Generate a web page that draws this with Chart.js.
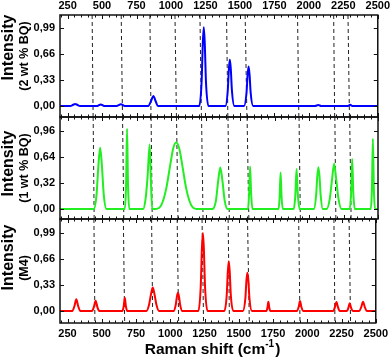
<!DOCTYPE html>
<html><head><meta charset="utf-8">
<script src="https://cdn.jsdelivr.net/npm/chart.js@4.4.0/dist/chart.umd.min.js"></script>
<style>
html,body{margin:0;padding:0;background:#fff;}
#wrap{position:relative;width:392px;height:359px;}
canvas{position:absolute;left:0;top:0;}
</style></head><body>
<div id="wrap">
<canvas id="c1" width="392" height="359"></canvas>
<canvas id="c2" width="392" height="359"></canvas>
<canvas id="c3" width="392" height="359"></canvas>
</div>
<script>
// ---- data ----
const xTickLabels = [250, 500, 750, 1000, 1250, 1500, 1750, 2000, 2250, 2500];
const yTicksBQ2 = [0, 0.33, 0.66, 0.99];
const yTicksBQ1 = [0, 0.32, 0.64, 0.96];
const yTicksM4 = [0, 0.33, 0.66, 0.99];

const shiftBQ2 = [195,270,290,305,320,340,465,491,515,605,637,665,835,855,872,889,905,1205,1222,1231,1238,1245,1254,1272,1395,1412,1420,1427,1434,1442,1460,1530,1548,1556,1563,1570,1578,1596,2045,2068,2090,2285,2300,2315,2500];
const intensityBQ2 = [0,0,0.015,0.025,0.015,0,0,0.02,0,0,0.022,0,0,0.06,0.127,0.06,0,0,0.3,0.8,1.0,0.8,0.3,0,0,0.2,0.47,0.59,0.47,0.2,0,0,0.17,0.4,0.5,0.4,0.17,0,0,0.012,0,0,0.015,0,0];

const shiftBQ1 = [195,440,460,474,486,498,512,532,665,674,681,688,697,798,815,830,845,853,863,890,930,965,995,1015,1037,1060,1080,1110,1145,1185,1300,1325,1342,1357,1372,1389,1410,1558,1566,1573,1580,1590,1780,1787,1794,1801,1810,1890,1900,1910,1918,1932,2035,2052,2060,2068,2076,2084,2100,2128,2150,2168,2182,2196,2214,2236,2295,2305,2313,2321,2332,2448,2456,2463,2470,2478,2500];
const intensityBQ1 = [0,0,0.18,0.55,0.75,0.55,0.18,0,0,0.3,0.985,0.3,0,0,0.12,0.4,0.79,0.4,0,0,0.05,0.25,0.55,0.74,0.816,0.74,0.55,0.25,0.05,0,0,0.1,0.35,0.508,0.35,0.1,0,0,0.2,0.52,0.2,0,0,0.15,0.447,0.15,0,0,0.15,0.489,0.2,0,0,0.18,0.4,0.513,0.4,0.18,0,0,0.12,0.38,0.554,0.38,0.12,0,0,0.2,0.612,0.2,0,0,0.25,0.862,0.25,0,0];

const shiftM4 = [195,285,300,314,328,343,428,442,455,468,482,650,660,668,676,686,826,845,860,872,884,899,918,1024,1040,1048,1056,1064,1072,1088,1205,1222,1231,1238,1245,1254,1272,1395,1412,1420,1427,1434,1442,1460,1530,1548,1556,1563,1570,1578,1596,1702,1709,1716,1723,1730,1925,1937,1947,1957,1970,2190,2202,2213,2224,2236,2290,2300,2310,2320,2332,2380,2394,2407,2420,2434,2500];
const intensityM4 = [0,0,0.06,0.148,0.06,0,0,0.05,0.131,0.05,0,0,0.06,0.169,0.06,0,0,0.08,0.22,0.3,0.22,0.08,0,0,0.08,0.18,0.232,0.18,0.08,0,0,0.3,0.8,0.993,0.8,0.3,0,0,0.2,0.5,0.635,0.5,0.2,0,0,0.16,0.39,0.486,0.39,0.16,0,0,0.04,0.118,0.04,0,0,0.05,0.127,0.05,0,0,0.05,0.114,0.05,0,0,0.04,0.098,0.04,0,0,0.05,0.118,0.05,0,0];

// reference (dashed) lines: Raman shift where each line meets the top and bottom of the figure
const dashTop    = [428, 639, 847, 1029, 1210, 1403, 1538, 1918, 2180, 2284];
const dashBottom = [450, 667, 872, 1061, 1243, 1432, 1577, 1947, 2202, 2316];

// axis titles
const yTitleBQ2 = ['Intensity', '(2 wt % BQ)'];
const yTitleBQ1 = ['Intensity', '(1 wt % BQ)'];
const yTitleM4  = ['Intensity', '(M4)'];
const xTitle = ['Raman shift (cm', '-1', ')'];

// ---- layout / style ----
const X_MIN = 195, X_MAX = 2500;
const FIG_TOP = 15, FIG_BOTTOM = 323;
const FONT = "'Liberation Sans', Arial, sans-serif";
Chart.defaults.font.family = FONT;
Chart.defaults.font.weight = 'bold';
Chart.defaults.color = '#000';

function fmt(v){ return v.toFixed(2).replace('.', ','); }

const panelDecor = {
  id: 'panelDecor',
  beforeDatasetsDraw(chart){
    const {ctx, chartArea:a, scales:{x}} = chart;
    ctx.save();
    ctx.strokeStyle = '#222'; ctx.lineWidth = 1; ctx.setLineDash([4,3]);
    const span = FIG_BOTTOM - FIG_TOP;
    dashTop.forEach((v,i)=>{
      const xt = x.getPixelForValue(v), xb = x.getPixelForValue(dashBottom[i]);
      const at = yy => xt + (xb - xt) * (yy - FIG_TOP) / span;
      ctx.beginPath(); ctx.moveTo(at(a.top), a.top); ctx.lineTo(at(a.bottom), a.bottom); ctx.stroke();
    });
    ctx.restore();
  },
  afterDraw(chart, args, opts){
    const {ctx, chartArea:a, scales:{x, y}} = chart;
    ctx.save();
    ctx.strokeStyle = '#111'; ctx.lineWidth = 1.5; ctx.setLineDash([]);
    ctx.strokeRect(a.left, a.top, a.right - a.left, a.bottom - a.top);
    ctx.lineWidth = 1;
    ctx.beginPath();
    for (let v = 200; v <= X_MAX; v += 50) {
      const px = Math.round(x.getPixelForValue(v)) + 0.5;
      const len = (v % 250 === 0) ? 4 : 2.5;
      ctx.moveTo(px, a.top); ctx.lineTo(px, a.top + len);
      ctx.moveTo(px, a.bottom); ctx.lineTo(px, a.bottom - len);
    }
    y.ticks.forEach(t=>{
      const py = Math.round(y.getPixelForValue(t.value)) + 0.5;
      ctx.moveTo(a.left, py); ctx.lineTo(a.left + 4, py);
      ctx.moveTo(a.right, py); ctx.lineTo(a.right - 4, py);
    });
    ctx.stroke();

    // y-axis title (two lines, rotated)
    ctx.fillStyle = '#000';
    ctx.textAlign = 'center'; ctx.textBaseline = 'middle';
    (opts.yTitle || []).forEach((txt, i) => {
      const p = opts.yTitlePos[i];
      ctx.save();
      ctx.translate(p.x, a.top + p.dy);
      ctx.rotate(-Math.PI/2);
      ctx.font = 'bold ' + p.size + 'px ' + FONT;
      ctx.fillText(txt, 0, 0);
      ctx.restore();
    });

    // x-axis title with superscript
    if (opts.xTitle) {
      const mainF = 'bold 15.5px ' + FONT, supF = 'bold 10px ' + FONT;
      ctx.textAlign = 'left'; ctx.textBaseline = 'alphabetic';
      ctx.font = mainF; const w0 = ctx.measureText(xTitle[0]).width;
      ctx.font = supF;  const w1 = ctx.measureText(xTitle[1]).width;
      ctx.font = mainF; const w2 = ctx.measureText(xTitle[2]).width;
      const total = w0 + w1 + 1 + w2;
      let sx = opts.xTitleCenter - total/2;
      const base = a.bottom + 31;
      ctx.font = mainF; ctx.fillText(xTitle[0], sx, base); sx += w0;
      ctx.font = supF;  ctx.fillText(xTitle[1], sx, base - 7); sx += w1 + 1;
      ctx.font = mainF; ctx.fillText(xTitle[2], sx, base);
    }
    ctx.restore();
  }
};

function makePanel(id, o){
  const xScale = {
    type: 'linear', min: X_MIN, max: X_MAX,
    position: o.xPos || 'bottom', display: !!o.xPos,
    grid: {display:false, drawTicks:false}, border: {display:false},
    ticks: {font:{size:11, weight:'bold'}, padding: o.xPos === 'top' ? 2 : 4, maxRotation:0, autoSkip:false, callback: v => String(v)},
    afterBuildTicks: s => { s.ticks = xTickLabels.map(v => ({value:v})); },
    afterFit: s => { s.height = o.xHeight || 0; },
    title: {display:false}
  };
  return new Chart(document.getElementById(id), {
    type: 'line',
    data: { datasets: [{
      data: o.shift.map((s,i) => ({x:s, y:o.intensity[i]})),
      borderColor: o.color, borderWidth: 2, pointRadius: 0, fill: false,
      cubicInterpolationMode: 'monotone'
    }]},
    options: {
      responsive: false, animation: false, devicePixelRatio: 1,
      layout: {padding: o.padding},
      plugins: {legend:{display:false}, tooltip:{enabled:false},
        panelDecor: {yTitle: o.yTitle, yTitlePos: o.yTitlePos, xTitle: !!o.xTitle, xTitleCenter: 212.5}},
      scales: {
        x: xScale,
        y: {
          type: 'linear', min: o.yMin, max: o.yMax,
          grid: {display:false, drawTicks:false}, border: {display:false},
          ticks: {font:{size:11, weight:'bold'}, padding:5, callback: v => fmt(v)},
          afterBuildTicks: s => { s.ticks = o.yTicks.map(v => ({value:v})); },
          afterFit: s => { s.width = 60; },
          title: {display:false}
        }
      }
    },
    plugins: [panelDecor]
  });
}

makePanel('c1', {shift:shiftBQ2, intensity:intensityBQ2, color:'#0000ff', yMin:-0.14, yMax:1.155,
  yTicks:yTicksBQ2, yTitle:yTitleBQ2, yTitlePos:[{x:9, dy:32.5, size:16},{x:24.5, dy:41, size:12.5}],
  xPos:'top', xHeight:15, padding:{top:0, left:0, right:14, bottom:242}});
makePanel('c2', {shift:shiftBQ1, intensity:intensityBQ1, color:'#22ee22', yMin:-0.123, yMax:1.128,
  yTicks:yTicksBQ1, yTitle:yTitleBQ1, yTitlePos:[{x:9, dy:46.5, size:16},{x:24.5, dy:51, size:12.5}],
  xPos:null, padding:{top:117, left:0, right:14, bottom:140}});
makePanel('c3', {shift:shiftM4, intensity:intensityM4, color:'#ff0000', yMin:-0.153, yMax:1.172,
  yTicks:yTicksM4, yTitle:yTitleM4, yTitlePos:[{x:9, dy:38.5, size:16},{x:24.5, dy:49, size:12.5}],
  xTitle:true, xPos:'bottom', xHeight:36, padding:{top:219, left:0, right:14, bottom:0}});
</script>
</body></html>
